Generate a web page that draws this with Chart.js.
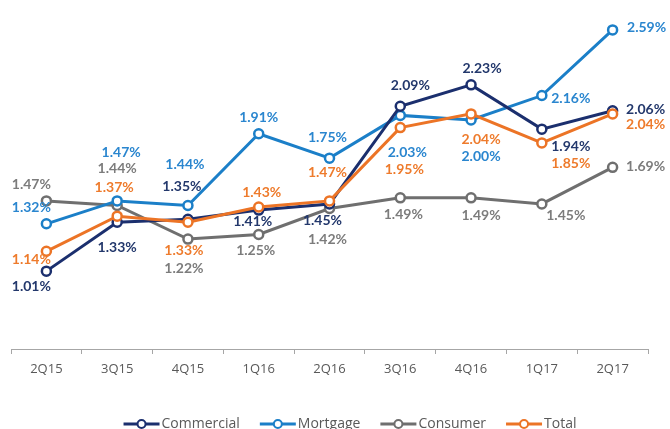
<!DOCTYPE html>
<html>
<head>
<meta charset="utf-8">
<script src="https://cdn.jsdelivr.net/npm/chart.js@4/dist/chart.umd.min.js"></script>
<style>
    html, body { margin: 0; padding: 0; background: #ffffff; overflow: hidden; }
    #wrap { width: 670px; height: 429px; position: relative; }
</style>
</head>
<body>
<div id="wrap"><canvas id="ratesChart"></canvas></div>
<script>
// Trimestres
const quarters = ['2Q15', '3Q15', '4Q15', '1Q16', '2Q16', '3Q16', '4Q16', '1Q17', '2Q17'];

// Valores por cartera (%)
const commercial = [1.01, 1.33, 1.35, 1.41, 1.45, 2.09, 2.23, 1.94, 2.06];
const mortgage   = [1.32, 1.47, 1.44, 1.91, 1.75, 2.03, 2.00, 2.16, 2.59];
const consumer   = [1.47, 1.44, 1.22, 1.25, 1.42, 1.49, 1.49, 1.45, 1.69];
const total      = [1.14, 1.37, 1.33, 1.43, 1.47, 1.95, 2.04, 1.85, 2.04];

const seriesNames = ['Commercial', 'Mortgage', 'Consumer', 'Total'];

// Colores de lineas y etiquetas
const lineColors  = ['#1b2f6e', '#1b7fc8', '#6f6f6f', '#ec7426'];
const labelColors = ['#23386c', '#2a86cf', '#7c7c7c', '#ee7b2c'];

// Desplazamiento de cada etiqueta respecto a su punto [dx, dy]
const labelOffsets = [
    [[-15, 15], [0, 25], [-6, -33], [-6, 11], [-7, 17], [10, -21], [11, -16], [29, 17], [33, -1]],
    [[-15, -16], [4, -48], [-3, -41], [0, -16], [-2, -21], [7, 37], [10, 37], [29, 3], [34, -2]],
    [[-15, -16], [0, -37], [-4, 29], [-3, 16], [-2, 31], [3, 17], [10, 18], [24, 12], [33, -1]],
    [[-15, 8], [-3, -29], [-4, 28], [3, -15], [-2, -28], [4, 42], [10, 26], [29, 21], [33, 11]]
];

// Orden de dibujo: Total arriba, Consumer abajo
const drawOrder = [1, 2, 3, 0];

const seriesData = [commercial, mortgage, consumer, total];

// Etiquetas de valor junto a cada punto
const valueLabels = {
    id: 'valueLabels',
    afterDatasetsDraw(chart) {
        const ctx = chart.ctx;
        ctx.save();
        ctx.font = 'bold 14px Lato, "Open Sans", sans-serif';
        ctx.textAlign = 'center';
        ctx.textBaseline = 'middle';
        chart.data.datasets.forEach((ds, i) => {
            const meta = chart.getDatasetMeta(i);
            ctx.fillStyle = labelColors[i];
            meta.data.forEach((pt, j) => {
                const off = labelOffsets[i][j];
                ctx.fillText(ds.data[j].toFixed(2) + '%', pt.x + off[0], pt.y + off[1]);
            });
        });
        ctx.restore();
    }
};

// Leyenda inferior: linea con circulo + texto
const bottomLegend = {
    id: 'bottomLegend',
    afterDraw(chart) {
        const ctx = chart.ctx;
        ctx.save();
        ctx.font = '14px "Open Sans", Lato, sans-serif';
        ctx.textBaseline = 'middle';
        const lineW = 36, gapText = 2, gapItem = 20;
        const widths = seriesNames.map(n => lineW + gapText + ctx.measureText(n).width);
        const totalW = widths.reduce((a, b) => a + b, 0) + gapItem * (widths.length - 1);
        let x = 350 - totalW / 2;
        const y = 424;
        seriesNames.forEach((name, i) => {
            ctx.strokeStyle = lineColors[i];
            ctx.lineWidth = 3;
            ctx.beginPath();
            ctx.moveTo(x, y);
            ctx.lineTo(x + lineW, y);
            ctx.stroke();
            ctx.beginPath();
            ctx.arc(x + lineW / 2, y, 4, 0, Math.PI * 2);
            ctx.fillStyle = '#ffffff';
            ctx.fill();
            ctx.lineWidth = 2;
            ctx.stroke();
            ctx.fillStyle = '#595959';
            ctx.fillText(name, x + lineW + gapText, y);
            x += widths[i] + gapItem;
        });
        ctx.restore();
    }
};

const ctx = document.getElementById('ratesChart').getContext('2d');

const ratesChart = new Chart(ctx, {
    type: 'line',
    data: {
        labels: quarters,
        datasets: seriesData.map((values, i) => ({
            label: seriesNames[i],
            data: values,
            order: drawOrder[i],
            borderColor: lineColors[i],
            backgroundColor: '#ffffff',
            borderWidth: 3,
            pointRadius: 4.5,
            pointBorderWidth: 2.5,
            pointBackgroundColor: '#ffffff',
            pointBorderColor: lineColors[i],
            tension: 0,
            fill: false
        }))
    },
    options: {
        responsive: true,
        maintainAspectRatio: false,
        animation: false,
        layout: {
            padding: { left: 11, right: 22, top: 1, bottom: 0 }
        },
        plugins: {
            legend: { display: false },
            tooltip: { enabled: false }
        },
        scales: {
            x: {
                offset: true,
                grid: {
                    display: true,
                    offset: true,
                    drawOnChartArea: false,
                    tickLength: 5,
                    color: '#a6a6a6'
                },
                border: { color: '#a6a6a6', width: 1 },
                ticks: {
                    color: '#595959',
                    padding: 7,
                    font: { family: '"Open Sans", Lato, sans-serif', size: 13 }
                },
                afterFit(scale) {
                    scale.height = 80;
                }
            },
            y: {
                display: false,
                min: 0.5,
                max: 2.74
            }
        }
    },
    plugins: [valueLabels, bottomLegend]
});
</script>
</body>
</html>
